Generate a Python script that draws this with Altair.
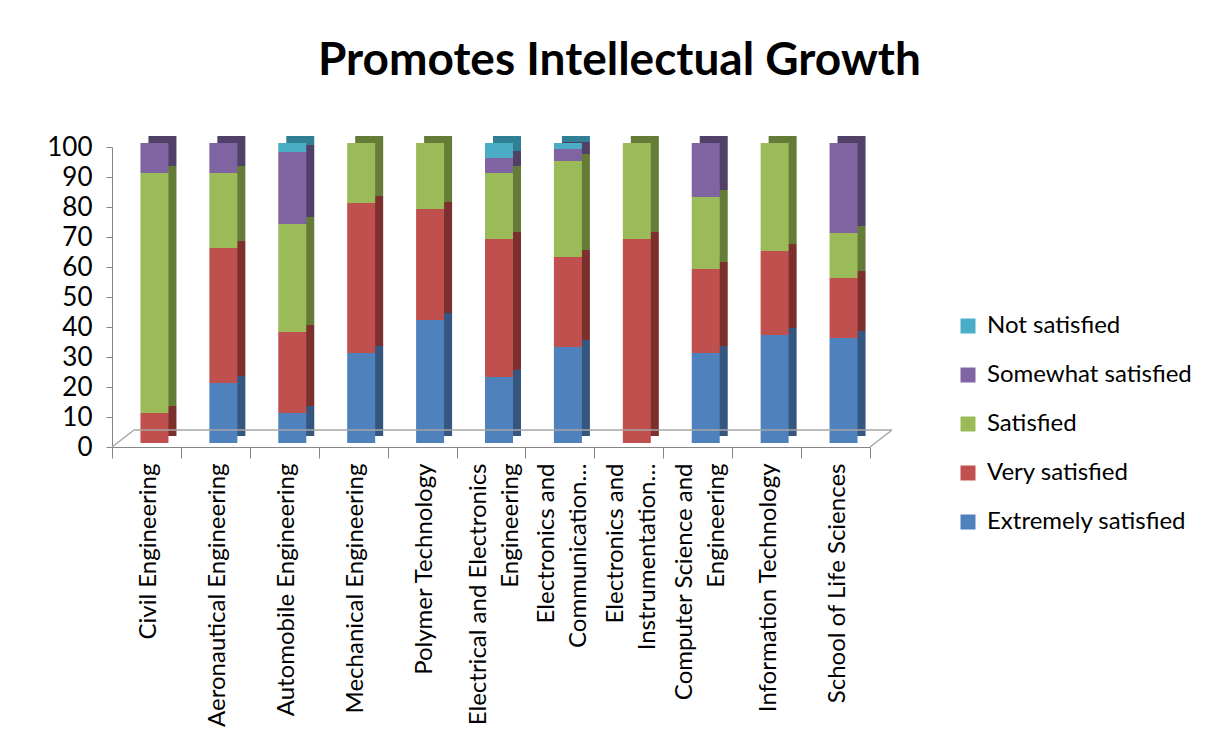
import altair as alt
import pandas as pd

categories = [
    "Civil Engineering",
    "Aeronautical Engineering",
    "Automobile Engineering",
    "Mechanical Engineering",
    "Polymer Technology",
    "Electrical and Electronics\nEngineering",
    "Electronics and\nCommunication…",
    "Electronics and\nInstrumentation…",
    "Computer Science and\nEngineering",
    "Information Technology",
    "School of Life Sciences",
]
statuses = ["Extremely satisfied", "Very satisfied", "Satisfied", "Somewhat satisfied", "Not satisfied"]
extremely = [0, 20, 10, 30, 41, 22, 32, 0, 30, 36, 35]
very = [10, 45, 27, 50, 37, 46, 30, 68, 28, 28, 20]
satisfied = [80, 25, 36, 20, 22, 22, 32, 32, 24, 36, 15]
somewhat = [10, 10, 24, 0, 0, 5, 4, 0, 18, 0, 30]
not_sat = [0, 0, 3, 0, 0, 5, 2, 0, 0, 0, 0]

front_colors = ["#4F81BD", "#C0504D", "#9BBB59", "#8064A2", "#4BACC6"]
side_colors = ["#34567F", "#7B302E", "#657B38", "#514068", "#2F8095"]

series = [extremely, very, satisfied, somewhat, not_sat]
rows = []
for rank, (status, vals) in enumerate(zip(statuses, series)):
    for cat, v in zip(categories, vals):
        rows.append({"category": cat, "status": status, "rank": rank, "value": v})
df = pd.DataFrame(rows)

legend_order = statuses[::-1]
front_range = front_colors[::-1]
side_range = side_colors[::-1]

W, H = 758, 300
FONT = "Lato"

x_enc = alt.X(
    "category:N",
    sort=categories,
    scale=alt.Scale(paddingInner=0, paddingOuter=0),
    axis=alt.Axis(
        title=None,
        labelAngle=270,
        labelAlign="right",
        labelBaseline="middle",
        labelExpr="split(datum.label, '\\n')",
        labelLineHeight=32,
        labelFontSize=24,
        labelFont=FONT,
        labelColor="#000000",
        labelLimit=400,
        labelPadding=5,
        labelOffset={"condition": {"test": "length(split(datum.value, '\\n')) > 1", "value": -13}, "value": 2},
        tickBand="extent",
        tickSize=11,
        tickColor="#868686",
        domainColor="#868686",
    ),
)
y_enc = alt.Y(
    "value:Q",
    stack="zero",
    scale=alt.Scale(domain=[0, 100], nice=False),
    axis=alt.Axis(
        title=None,
        values=list(range(0, 101, 10)),
        grid=False,
        labelFontSize=26,
        labelFont=FONT,
        labelColor="#000000",
        labelPadding=14,
        tickSize=6,
        tickColor="#868686",
        domainColor="#868686",
    ),
)

back = alt.Chart(df).mark_bar(size=28, xOffset=16, yOffset=-11).encode(
    x=x_enc,
    y=y_enc,
    color=alt.Color("status:N", scale=alt.Scale(domain=legend_order, range=side_range), legend=None),
    order=alt.Order("rank:Q", sort="ascending"),
)

front = alt.Chart(df).mark_bar(size=28, xOffset=8, yOffset=-4).encode(
    x=x_enc,
    y=y_enc,
    color=alt.Color(
        "status:N",
        scale=alt.Scale(domain=legend_order, range=front_range),
        legend=alt.Legend(
            title=None,
            orient="none",
            legendX=844,
            legendY=167,
            symbolType="square",
            symbolSize=225,
            symbolStrokeWidth=0,
            labelFontSize=24,
            labelFont=FONT,
            labelColor="#000000",
            labelOffset=7,
            rowPadding=25,
            labelLimit=400,
        ),
    ),
    order=alt.Order("rank:Q", sort="ascending"),
)

one = pd.DataFrame({"k": [0]})
floor_back = alt.Chart(one).mark_rule(color="#A6A6A6", strokeWidth=1.5).encode(
    x=alt.value(22), x2=alt.value(W + 22), y=alt.value(H - 17)
)
floor_left = alt.Chart(one).mark_rule(color="#A6A6A6", strokeWidth=1.5).encode(
    x=alt.value(0), y=alt.value(H), x2=alt.value(22), y2=alt.value(H - 17)
)
floor_right = alt.Chart(one).mark_rule(color="#A6A6A6", strokeWidth=1.5).encode(
    x=alt.value(W), y=alt.value(H), x2=alt.value(W + 22), y2=alt.value(H - 17)
)

chart = (
    alt.layer(back, front, floor_back, floor_left, floor_right)
    .resolve_scale(color="independent")
    .properties(
        width=W,
        height=H,
        padding={"left": 38, "top": 30, "right": 5, "bottom": 5},
        title=alt.TitleParams(
            "Promotes Intellectual Growth",
            fontSize=46,
            font=FONT,
            fontWeight="bold",
            color="#000000",
            anchor="middle",
            frame="bounds",
            offset=49,
        ),
    )
    .configure_view(stroke=None)
)

chart.save("out.html", embed_options={"renderer": "svg", "actions": False})
